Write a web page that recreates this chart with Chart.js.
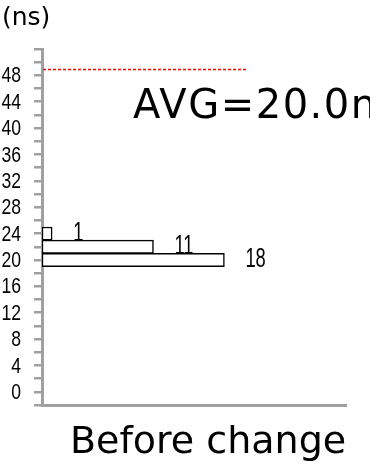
<!DOCTYPE html>
<html lang="en">
  <head>
    <meta charset="UTF-8" />
    <title>Before change</title>
    <script src="https://cdn.jsdelivr.net/npm/chart.js"></script>
    <style>
      body { margin: 0; background: #fff; }
      #wrap { width: 370px; height: 465px; }
    </style>
  </head>
  <body>
    <div id="wrap"><canvas id="histChart"></canvas></div>

    <script>
      // histogram bins (ns) and counts
      const bins = [20, 22, 24];
      const counts = [18, 11, 1];
      const yMin = -1;
      const yMax = 51;
      const xMax = 30;
      const yLabels = [0, 4, 8, 12, 16, 20, 24, 28, 32, 36, 40, 44, 48];
      const limitValue = 49;
      const limitLength = 20.3;
      const avgText = "AVG=20.0ns";
      const unitText = "(ns)";
      const titleText = "Before change";

      const axisGray = "#a0a0a0";

      // narrow looking text: squeeze a normal font horizontally
      function narrowText(ctx, txt, x, y, size, sx, align) {
        ctx.save();
        ctx.font = size + 'px "Liberation Sans"';
        ctx.textAlign = align;
        ctx.textBaseline = "middle";
        ctx.translate(x, y);
        ctx.scale(sx, 1);
        ctx.fillText(txt, 0, 0);
        ctx.restore();
      }

      // red limit line, tick labels, value labels and free texts
      const extras = {
        id: "extras",
        afterDatasetsDraw(chart) {
          const ctx = chart.ctx;
          const x = chart.scales.x;
          const y = chart.scales.y;

          ctx.save();
          ctx.strokeStyle = "#ff0000";
          ctx.lineWidth = 1.3;
          ctx.setLineDash([3, 2]);
          const ly = Math.round(y.getPixelForValue(limitValue)) + 0.5;
          ctx.beginPath();
          ctx.moveTo(x.getPixelForValue(0) + 1, ly);
          ctx.lineTo(x.getPixelForValue(limitLength), ly);
          ctx.stroke();
          ctx.restore();

          ctx.fillStyle = "#000";
          yLabels.forEach((v) => {
            narrowText(ctx, String(v), 21, y.getPixelForValue(v) + 1, 22, 0.8, "right");
          });

          chart.getDatasetMeta(0).data.forEach((bar, i) => {
            narrowText(ctx, String(counts[i]), bar.x + 21, bar.y, 27, 0.68, "left");
          });

          ctx.save();
          ctx.fillStyle = "#000";
          ctx.textAlign = "left";
          ctx.textBaseline = "alphabetic";
          ctx.font = '25px "DejaVu Sans"';
          ctx.fillText(unitText, 2, 25);

          ctx.font = '40px "DejaVu Sans"';
          ctx.letterSpacing = "1.5px";
          ctx.fillText(avgText, 133, 118);
          ctx.letterSpacing = "0px";
          ctx.font = '38px "DejaVu Sans"';
          ctx.fillText(titleText, 70, 453);
          ctx.restore();
        },
      };

      const ctx = document.getElementById("histChart").getContext("2d");
      new Chart(ctx, {
        type: "bar",
        data: {
          datasets: [
            {
              data: bins.map((b, i) => ({ x: counts[i], y: b })),
              backgroundColor: "#ffffff",
              borderColor: "#000000",
              borderWidth: 1.5,
              borderSkipped: false,
              barPercentage: 1,
              categoryPercentage: 1,
            },
          ],
        },
        options: {
          indexAxis: "y",
          responsive: true,
          maintainAspectRatio: false,
          animation: false,
          layout: { padding: { top: 49, right: 24, bottom: 60, left: 0 } },
          plugins: {
            legend: { display: false },
            tooltip: { enabled: false },
          },
          scales: {
            x: {
              type: "linear",
              min: 0,
              max: xMax,
              grid: { display: false },
              ticks: { display: false },
              border: { color: axisGray, width: 3 },
              afterFit: (s) => { s.height = 0; },
            },
            y: {
              type: "linear",
              min: yMin,
              max: yMax,
              afterFit: (s) => { s.width = 42; },
              afterBuildTicks: (s) => {
                const t = [];
                for (let v = yMin; v <= yMax; v += 2) t.push({ value: v });
                s.ticks = t;
              },
              grid: {
                drawOnChartArea: false,
                color: axisGray,
                lineWidth: 2.5,
                tickLength: 8,
              },
              border: { color: axisGray, width: 3 },
              ticks: { display: false, autoSkip: false },
            },
          },
        },
        plugins: [extras],
      });
    </script>
  </body>
</html>
